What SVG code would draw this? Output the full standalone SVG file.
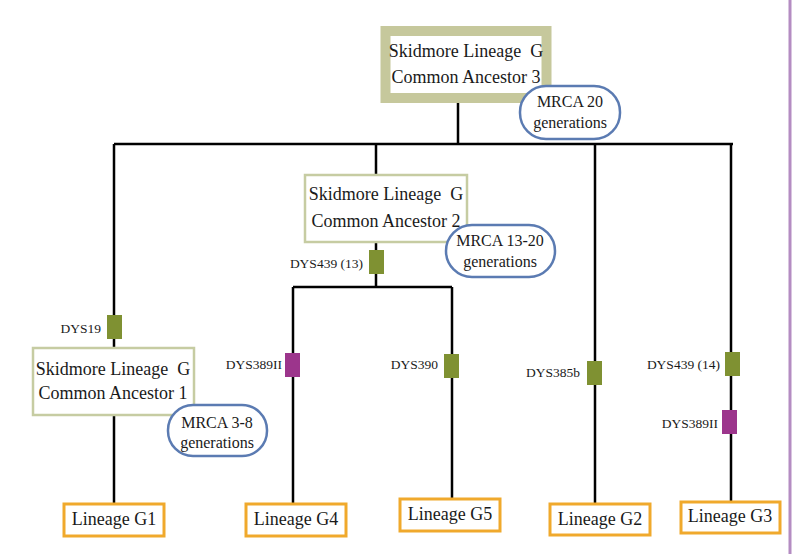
<svg xmlns="http://www.w3.org/2000/svg" width="796" height="554" viewBox="0 0 796 554">
  <style>
    text { font-family: "Liberation Serif", "Times New Roman", serif; fill: #1a1a1a; }
    .big { font-size: 18px; text-anchor: middle; }
    .mid { font-size: 16px; text-anchor: middle; }
    .lbl { font-size: 13.5px; text-anchor: end; }
    .wire { fill: none; stroke: #000; stroke-width: 2.5; }
    .anc { fill: #fff; stroke: #c6cca2; stroke-width: 2.5; }
    .mrca { fill: #fff; stroke: #5b7bb2; stroke-width: 2.5; }
    .leaf { fill: #fff; stroke: #f0a92c; stroke-width: 3; }
    .snp-g { fill: #7f9132; }
    .snp-p { fill: #9c358c; }
  </style>
  <rect x="0" y="0" width="796" height="554" fill="#fff"/>
  <line x1="790" y1="0" x2="790" y2="554" stroke="#b48cc2" stroke-width="3"/>

  <!-- tree connectors -->
  <g id="connectors">
    <path class="wire" d="M458 100 V144 M114 144 H733 M114 144 V503 M376 144 V174 M376 242 V287 M293 287 H452 M293 287 V503 M452 287 V498 M595 144 V503 M731 144 V502"/>
  </g>

  <!-- mutation markers -->
  <g id="markers">
    <g id="m-dys19"><rect class="snp-g" x="107" y="315" width="15" height="24"/><text class="lbl" x="101" y="333">DYS19</text></g>
    <g id="m-dys439-13"><rect class="snp-g" x="369" y="250" width="15" height="24"/><text class="lbl" x="363" y="268">DYS439 (13)</text></g>
    <g id="m-dys389ii-a"><rect class="snp-p" x="285" y="353" width="15" height="24"/><text class="lbl" x="282" y="369">DYS389II</text></g>
    <g id="m-dys390"><rect class="snp-g" x="444" y="354" width="15" height="24"/><text class="lbl" x="438" y="369">DYS390</text></g>
    <g id="m-dys385b"><rect class="snp-g" x="587" y="361" width="15" height="24"/><text class="lbl" x="580" y="377">DYS385b</text></g>
    <g id="m-dys439-14"><rect class="snp-g" x="725" y="352" width="15" height="24"/><text class="lbl" x="720" y="369">DYS439 (14)</text></g>
    <g id="m-dys389ii-b"><rect class="snp-p" x="722" y="410" width="15" height="24"/><text class="lbl" x="718" y="428">DYS389II</text></g>
  </g>

  <!-- common ancestors -->
  <g id="ancestor3">
    <rect x="385.5" y="31" width="161" height="67" fill="#fff" stroke="#c6c89c" stroke-width="10"/>
    <text class="big" x="466" y="57">Skidmore Lineage&#160; G</text>
    <text class="big" x="466" y="83">Common Ancestor 3</text>
  </g>
  <g id="mrca20">
    <rect class="mrca" x="520" y="86" width="100" height="53" rx="26"/>
    <text class="mid" x="570" y="107">MRCA 20</text>
    <text class="mid" x="570" y="128">generations</text>
  </g>

  <g id="ancestor2">
    <rect class="anc" x="305" y="175" width="162" height="67"/>
    <text class="big" x="386" y="200">Skidmore Lineage&#160; G</text>
    <text class="big" x="386" y="227">Common Ancestor 2</text>
  </g>
  <g id="mrca13-20">
    <rect class="mrca" x="446" y="225" width="109" height="52" rx="26"/>
    <text class="mid" x="500" y="246">MRCA 13-20</text>
    <text class="mid" x="500" y="267">generations</text>
  </g>

  <g id="ancestor1">
    <rect class="anc" x="33" y="348" width="161" height="67"/>
    <text class="big" x="113" y="375">Skidmore Lineage&#160; G</text>
    <text class="big" x="113" y="399">Common Ancestor 1</text>
  </g>
  <g id="mrca3-8">
    <rect class="mrca" x="168" y="405" width="99" height="51" rx="25"/>
    <text class="mid" x="217" y="428">MRCA 3-8</text>
    <text class="mid" x="217" y="448">generations</text>
  </g>

  <!-- present-day lineages -->
  <g id="lineageG1"><rect class="leaf" x="64" y="504" width="100" height="32"/><text class="big" x="114" y="525">Lineage G1</text></g>
  <g id="lineageG4"><rect class="leaf" x="246" y="504" width="100" height="32"/><text class="big" x="296" y="525">Lineage G4</text></g>
  <g id="lineageG5"><rect class="leaf" x="400" y="499" width="100" height="32"/><text class="big" x="450" y="520">Lineage G5</text></g>
  <g id="lineageG2"><rect class="leaf" x="550" y="504" width="100" height="31"/><text class="big" x="600" y="525">Lineage G2</text></g>
  <g id="lineageG3"><rect class="leaf" x="681" y="502" width="99" height="31"/><text class="big" x="730" y="522">Lineage G3</text></g>
</svg>
